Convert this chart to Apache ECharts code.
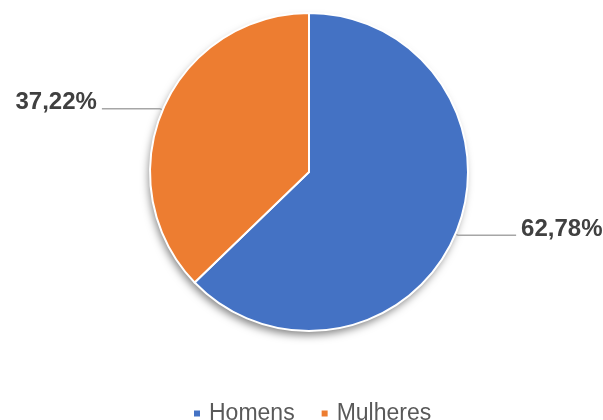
<!DOCTYPE html>
<html>
<head>
<meta charset="utf-8">
<script src="https://cdn.jsdelivr.net/npm/echarts@6/dist/echarts.min.js"></script>
<style>
html,body{margin:0;padding:0;background:#fff;}
#main{width:603px;height:420px;}
</style>
</head>
<body>
<div id="main"></div>
<script>
var categories = ['Homens', 'Mulheres'];
var values = [62.78, 37.22];
var colors = ['#4472C4', '#ED7D31'];

var chart = echarts.init(document.getElementById('main'));

var data = categories.map(function (c, i) {
  return { name: c, value: values[i], itemStyle: { color: colors[i] } };
});
var total = values.reduce(function (a, b) { return a + b; }, 0);

var center = [309, 172];

var option = {
  animation: false,
  legend: {
    data: categories,
    top: 397,
    left: 187,
    icon: 'rect',
    itemWidth: 8,
    itemHeight: 8,
    itemGap: 25,
    textStyle: { color: '#595959', fontSize: 23, fontFamily: 'Liberation Sans', padding: [0, 0, 0, 3] }
  },
  series: [{
    // sombra atrás da pizza
    type: 'pie',
    silent: true,
    center: center,
    radius: 158,
    z: 1,
    data: [{ name: 'sombra', value: total }],
    label: { show: false },
    labelLine: { show: false },
    itemStyle: {
      color: '#fff',
      shadowColor: 'rgba(0,0,0,0.5)',
      shadowBlur: 9,
      shadowOffsetX: -2,
      shadowOffsetY: 5
    }
  }, {
    type: 'pie',
    center: center,
    radius: 159,
    startAngle: 90,
    clockwise: true,
    z: 2,
    data: data,
    itemStyle: { borderColor: '#fff', borderWidth: 2 },
    label: {
      show: true,
      formatter: function (p) { return p.value.toFixed(2).replace('.', ',') + '%'; },
      fontSize: 24,
      fontWeight: 'bold',
      color: '#404040',
      fontFamily: 'Liberation Sans',
      overflow: 'none'
    },
    labelLayout: { dy: -6 },
    labelLine: {
      show: true,
      length: 3,
      length2: 58,
      smooth: false,
      lineStyle: { color: '#A6A6A6', width: 1.5 }
    }
  }]
};

chart.setOption(option);
</script>
</body>
</html>
